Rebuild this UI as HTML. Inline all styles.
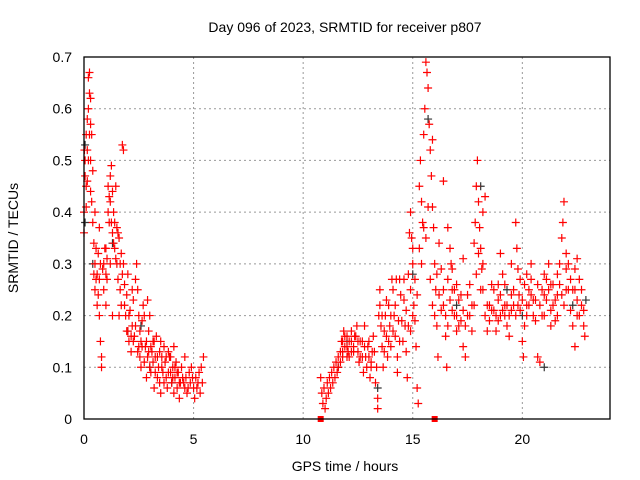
<!DOCTYPE html>
<html><head><meta charset="utf-8"><style>
html,body{margin:0;padding:0;background:#fff}
svg{display:block;font-family:"Liberation Sans",sans-serif}
</style></head><body>
<svg id="c" width="640" height="480">
<text x="345" y="32" font-size="14" text-anchor="middle">Day 096 of 2023, SRMTID for receiver p807</text>
<text x="345" y="471" font-size="14" text-anchor="middle">GPS time / hours</text>
<text transform="translate(18,238) rotate(-90)" font-size="14" text-anchor="middle">SRMTID / TECUs</text>
<g id="grid"></g><g id="ticks"></g><g id="marks"></g>
<rect x="84" y="57" width="526" height="362" fill="none" stroke="#000" stroke-width="1.3"/>
</svg>
<script>
const xTicks=[0,5,10,15,20];
const yTicks=[0,0.1,0.2,0.3,0.4,0.5,0.6,0.7];
const redHours=[0.05,0.05,0.1,0.1,0.15,0.2,0.2,0.25,0.25,0.3,0.3,0.35,0.35,0.4,0.4,0,0,0.02,0.1,0.15,0.2,0.3,0.45,0.5,0.5,0.55,0.6,0.6,0.65,0.7,0.7,0.75,0.8,0.8,0.85,0.9,0.9,1,1,1.05,1.1,1.1,1.15,1.2,1.2,1.25,1.3,1.3,1.35,1.4,1.4,1.45,1.5,1.5,1.55,1.6,1.65,1.7,1.7,1.75,1.8,1.8,1.85,1.9,1.95,2,2,2.05,2.1,2.15,2.2,2.25,2.3,2.35,2.4,2.45,2.5,2.55,2.6,2.6,2.65,2.7,2.75,2.8,2.85,2.9,2.95,3,3.05,3.1,3.15,3.2,3.25,3.3,3.35,3.4,3.45,3.5,3.5,3.55,3.6,3.65,3.7,3.75,3.8,3.85,3.9,3.95,4,4.05,4.1,4.15,4.2,4.25,4.3,4.35,4.4,4.5,4.6,4.7,4.8,4.85,4.9,5,5.05,5.1,5.2,5.3,5.4,5.45,4.1,3,2.9,2.2,1.6,1.3,1,0.7,0.5,1.2,4.6,3.2,2.5,
10.8,10.85,10.9,10.95,11,11.05,11.1,11.15,11.2,11.25,11.3,11.35,11.4,11.45,11.5,11.55,11.6,11.7,11.75,11.8,11.85,11.9,12,12.05,12.1,12.2,12.3,12.4,12.45,12.5,12.55,12.6,12.7,12.75,12.8,12.9,13,13.05,13.1,13.2,13.25,13.3,13.35,13.4,13.4,13.45,13.5,13.5,13.55,13.6,13.65,13.7,13.75,13.8,13.85,13.9,13.95,14,14.05,14.1,14.15,14.2,14.3,14.3,14.4,14.5,14.6,14.65,14.7,14.75,14.8,14.85,14.9,14.95,15,15.05,15.1,15.15,15.2,15.25,15.3,15.35,15.4,15.45,15.5,15.55,15.6,15.65,15.7,15.75,15.8,15.85,15.9,15.95,16,16.05,16.1,16.15,16.2,16.3,16.4,16.5,16.55,16.6,16.7,16.75,16.8,16.9,17,17.1,17.2,17.3,17.4,17.5,17.6,17.7,17.8,17.85,17.9,17.95,18,18.05,18.1,18.15,18.2,18.3,18.4,18.5,18.6,18.7,18.8,18.9,19,19.1,19.2,19.3,19.4,19.5,19.6,19.7,19.75,19.8,19.85,19.9,20,20.05,20.1,20.2,20.3,20.4,20.5,20.6,20.7,20.8,20.9,21,21.1,21.2,21.3,21.4,21.5,21.6,21.7,21.8,21.85,21.9,22,22.1,22.2,22.3,22.4,22.5,22.6,22.7,22.8,22.85,
16.4,16.6,18.2,18.3,17.3,14.4,15.9,15,19,21.3,22,20.4,19.5,12.8,13,21,22.4,22.5,17,16.8,20.2,18.9,21.6,19.2,14.9,13.1,12.2,12,11.8];
const redValues=[0.5,0.47,0.55,0.45,0.52,0.6,0.66,0.67,0.63,0.62,0.57,0.55,0.42,0.48,0.38,0.4,0.36,0.52,0.41,0.46,0.5,0.5,0.34,0.3,0.25,0.33,0.28,0.22,0.32,0.27,0.2,0.15,0.12,0.1,0.29,0.3,0.25,0.28,0.33,0.31,0.45,0.4,0.38,0.47,0.42,0.49,0.44,0.36,0.4,0.38,0.33,0.45,0.37,0.3,0.27,0.35,0.25,0.32,0.22,0.53,0.52,0.3,0.26,0.2,0.24,0.28,0.17,0.15,0.21,0.13,0.18,0.23,0.16,0.27,0.3,0.25,0.2,0.12,0.15,0.1,0.19,0.22,0.2,0.14,0.08,0.12,0.17,0.1,0.14,0.13,0.11,0.06,0.09,0.16,0.12,0.1,0.07,0.15,0.05,0.12,0.09,0.14,0.11,0.08,0.06,0.13,0.12,0.09,0.07,0.1,0.05,0.08,0.11,0.06,0.09,0.04,0.07,0.08,0.06,0.05,0.09,0.07,0.1,0.06,0.04,0.08,0.07,0.05,0.07,0.12,0.14,0.2,0.23,0.25,0.2,0.2,0.22,0.37,0.4,0.3,0.12,0.15,0.14,
0.08,0.05,0.03,0.06,0.02,0.04,0.07,0.05,0.08,0.06,0.09,0.07,0.1,0.08,0.11,0.09,0.12,0.13,0.15,0.12,0.17,0.14,0.16,0.13,0.15,0.17,0.14,0.16,0.18,0.13,0.11,0.15,0.12,0.09,0.14,0.1,0.12,0.08,0.11,0.16,0.13,0.07,0.1,0.02,0.04,0.2,0.25,0.22,0.18,0.14,0.1,0.13,0.2,0.16,0.12,0.22,0.18,0.14,0.27,0.25,0.2,0.16,0.12,0.09,0.15,0.19,0.23,0.18,0.13,0.08,0.28,0.36,0.4,0.35,0.3,0.22,0.19,0.14,0.06,0.03,0.45,0.5,0.42,0.38,0.55,0.6,0.69,0.67,0.64,0.57,0.52,0.47,0.41,0.37,0.3,0.25,0.18,0.12,0.34,0.29,0.22,0.16,0.1,0.27,0.33,0.3,0.25,0.2,0.17,0.23,0.19,0.14,0.12,0.2,0.26,0.22,0.34,0.38,0.45,0.5,0.42,0.37,0.33,0.29,0.25,0.2,0.17,0.22,0.26,0.21,0.17,0.19,0.24,0.28,0.22,0.18,0.16,0.21,0.25,0.38,0.33,0.29,0.24,0.21,0.15,0.12,0.18,0.22,0.25,0.27,0.23,0.19,0.12,0.11,0.2,0.24,0.27,0.3,0.26,0.22,0.19,0.24,0.3,0.35,0.38,0.42,0.29,0.25,0.21,0.18,0.14,0.31,0.27,0.22,0.18,0.16,
0.46,0.37,0.4,0.43,0.31,0.27,0.54,0.33,0.32,0.18,0.32,0.3,0.3,0.18,0.15,0.2,0.25,0.2,0.26,0.29,0.28,0.26,0.28,0.2,0.17,0.1,0.13,0.12,0.15];
const redHours2=[0.15,0.25,0.3,0.45,0.55,0.65,0.75,0.95,1.05,1.15,1.25,1.35,1.45,1.55,1.65,1.75,1.85,1.95,2.05,2.15,2.25,2.35,2.45,2.55,2.65,2.75,2.85,2.95,3.05,3.15,3.25,3.35,3.45,3.55,3.65,3.75,3.85,3.95,4.05,4.15,4.25,4.35,4.45,4.55,4.65,4.75,4.95,5.15,5.25,5.35,
11.6,11.7,11.8,11.9,12,12.1,12.2,12.3,12.35,12.5,12.6,12.7,12.85,12.95,13.15,13.6,13.7,13.8,13.9,14,14.1,14.2,14.25,14.35,14.45,14.55,14.6,14.7,14.8,14.9,15,15.1,15.2,15.3,15.4,15.5,15.6,15.7,15.8,15.9,16,16.1,16.2,16.3,16.4,16.5,16.6,16.7,16.8,16.9,17,17.1,17.2,17.3,17.4,17.5,17.6,17.7,17.8,17.9,18,18.1,18.2,18.4,18.5,18.6,18.7,18.8,18.9,19,19.1,19.2,19.3,19.4,19.5,19.6,19.7,19.8,19.9,20,20.1,20.2,20.3,20.4,20.5,20.6,20.7,20.8,20.9,21,21.1,21.2,21.3,21.4,21.5,21.6,21.7,21.8,21.9,22,22.1,22.2,22.3,22.4,22.5,22.6,22.7,22.8];
const redValues2=[0.58,0.55,0.44,0.28,0.27,0.24,0.3,0.33,0.27,0.43,0.38,0.34,0.31,0.36,0.3,0.28,0.22,0.17,0.2,0.16,0.15,0.18,0.13,0.17,0.14,0.11,0.15,0.13,0.09,0.15,0.12,0.08,0.13,0.1,0.07,0.12,0.09,0.12,0.08,0.1,0.09,0.07,0.1,0.07,0.08,0.06,0.08,0.06,0.09,0.1,
0.1,0.11,0.13,0.16,0.14,0.12,0.15,0.13,0.16,0.15,0.12,0.15,0.12,0.14,0.13,0.2,0.17,0.23,0.15,0.2,0.17,0.22,0.27,0.19,0.24,0.15,0.27,0.21,0.18,0.25,0.2,0.27,0.24,0.33,0.3,0.37,0.35,0.41,0.27,0.22,0.2,0.28,0.24,0.21,0.25,0.2,0.18,0.23,0.21,0.25,0.2,0.18,0.24,0.21,0.18,0.24,0.2,0.17,0.22,0.28,0.32,0.25,0.3,0.22,0.19,0.21,0.25,0.2,0.23,0.2,0.21,0.26,0.22,0.2,0.24,0.22,0.2,0.22,0.27,0.23,0.26,0.2,0.22,0.24,0.2,0.23,0.26,0.22,0.25,0.28,0.23,0.25,0.21,0.26,0.23,0.2,0.26,0.24,0.22,0.25,0.3,0.27,0.25,0.29,0.23,0.2,0.25,0.21];
const blackHours=[0.05,0.4,1.3,2,3,4,11.6,13.4,15.7,17,18.1,20,21,22.3,22.9,19.3,15,12,0.05,2.6];
const blackValues=[0.53,0.3,0.34,0.17,0.1,0.07,0.1,0.06,0.58,0.22,0.45,0.2,0.1,0.22,0.23,0.25,0.28,0.15,0.38,0.18];
const gapHours=[10.8,16];
const gapValues=[0,0];
const NS='http://www.w3.org/2000/svg';
const X0=84,X1=610,Y0=419,Y1=57,XMAX=24,YMAX=0.7;
const sx=h=>X0+(X1-X0)*h/XMAX;
const sy=v=>Y0-(Y0-Y1)*v/YMAX;
function mk(t,a,p){const e=document.createElementNS(NS,t);for(const k in a)e.setAttribute(k,a[k]);p.appendChild(e);return e;}
const grid=document.getElementById('grid'),ticks=document.getElementById('ticks'),marks=document.getElementById('marks');
xTicks.forEach(t=>{const x=sx(t);
 if(t>0){const g=mk('line',{x1:x,x2:x,y1:Y0,y2:Y1,stroke:'#999','stroke-dasharray':'2,3'},grid);
 
 }
 const l=mk('text',{x:x,y:444,'font-size':14,'text-anchor':'middle'},ticks);l.textContent=t;
 
 });
yTicks.forEach(t=>{const y=sy(t);
 if(t>0&&t<0.7){const g=mk('line',{x1:X0,x2:X1,y1:y,y2:y,stroke:'#999','stroke-dasharray':'2,3'},grid);
 
 }
 const l=mk('text',{x:72,y:y+5,'font-size':14,'text-anchor':'end'},ticks);l.textContent=(t===0?'0':t.toFixed(1));
 
 });
function plus(h,v,col,name){const x=sx(h),y=sy(v);
 const p=mk('path',{d:`M${x-4},${y}H${x+4}M${x},${y-4}V${y+4}`,stroke:col,'stroke-width':1.2,fill:'none'},marks);
 
 }
blackHours.forEach((h,i)=>plus(h,blackValues[i],'#333','black-point'));
redHours.forEach((h,i)=>plus(h,redValues[i],'#f00','red-point'));
redHours2.forEach((h,i)=>plus(h,redValues2[i],'#f00','red-point'));
gapHours.forEach((h,i)=>{const r=mk('rect',{x:sx(h)-3,y:sy(gapValues[i])-3,width:6,height:6,fill:'#f00'},marks);
 
 });
</script>
</body></html>
